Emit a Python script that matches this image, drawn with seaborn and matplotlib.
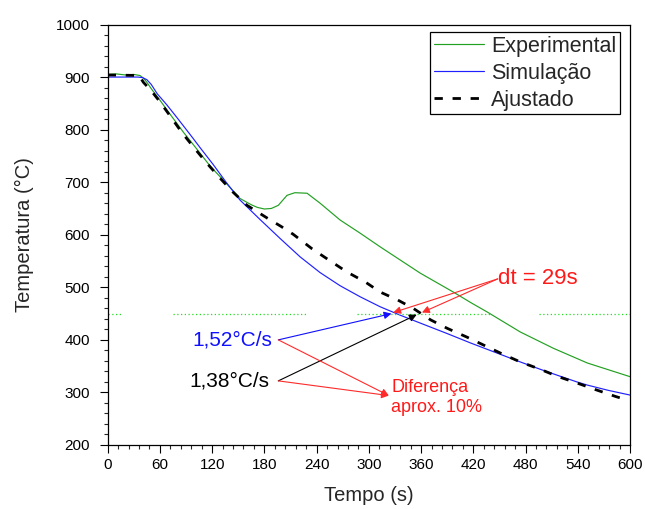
import numpy as np
import pandas as pd
import matplotlib
matplotlib.use("Agg")
import matplotlib.pyplot as plt
import seaborn as sns
from matplotlib.ticker import MultipleLocator

# ---------------- data ----------------
exp_t = [0, 10, 20, 30, 37, 41, 45, 50, 60, 70, 87, 100, 118, 135, 152, 165, 172, 180,
         188, 196, 206, 215, 229, 244, 267, 290, 313, 336, 359, 397, 417, 436, 474, 512, 551, 600]
exp_T = [905, 906, 904, 905, 903, 898, 890, 878, 856, 833, 795, 768, 730, 700, 669, 657, 652, 649,
         650, 656, 675, 680, 679, 660, 628, 603, 577, 552, 527, 491, 471, 453, 415, 384, 356, 330]

sim_t = [0, 35, 40, 45, 50, 57, 68, 80, 95, 106, 121, 136, 152, 175, 198, 221, 244, 267, 290,
         313, 336, 359, 390, 417, 436, 455, 474, 497, 516, 539, 551, 575, 600]
sim_T = [900, 900, 899, 895, 886, 868, 847, 822, 790, 766, 734, 700, 666, 629, 593, 558, 528, 503, 482,
         463, 447, 432, 412, 394, 382, 370, 358, 344, 333, 320, 314, 304, 295]

fit_t = [0, 36, 41, 50, 60, 70, 85, 100, 114, 130, 144, 160, 183, 200, 213, 235, 254, 275, 296, 313,
         333, 351, 371, 390, 413, 432, 451, 474, 497, 516, 539, 561, 584, 592]
fit_T = [904, 903, 890, 874, 853, 830, 795, 764, 736, 706, 681, 656, 632, 615, 601, 573, 552, 529, 510, 491,
         476, 460, 438, 422, 405, 390, 375, 358, 344, 331, 318, 305, 292, 288]

ref_T = 450
ref_segments = [(0, 18), (75, 230), (286, 442), (496, 600)]

x_ticks = [0, 60, 120, 180, 240, 300, 360, 420, 480, 540, 600]
y_ticks = [200, 300, 400, 500, 600, 700, 800, 900, 1000]

series_labels = ["Experimental", "Simulação", "Ajustado"]

# ---------------- style ----------------
sns.set_style("ticks")
plt.rcParams["font.family"] = ["Liberation Sans", "DejaVu Sans"]

fig = plt.figure(figsize=(6.45, 5.09), dpi=100)
ax = fig.add_axes([107.7 / 645, 1 - 445 / 509, (630 - 107.7) / 645, (445 - 24.5) / 509])

df_exp = pd.DataFrame({"t": exp_t, "T": exp_T})
df_sim = pd.DataFrame({"t": sim_t, "T": sim_T})
df_fit = pd.DataFrame({"t": fit_t, "T": fit_T})

sns.lineplot(data=df_exp, x="t", y="T", ax=ax, color="#22a022", linewidth=0.85,
             label=series_labels[0], sort=True)
sns.lineplot(data=df_sim, x="t", y="T", ax=ax, color="#2020ff", linewidth=0.85,
             label=series_labels[1], sort=True)
sns.lineplot(data=df_fit, x="t", y="T", ax=ax, color="black", linewidth=2.0,
             label=series_labels[2], sort=True)
ax.lines[2].set_dashes((3, 3.5))

# reference dotted line at 450
for a, b in ref_segments:
    ax.plot([a, b], [ref_T, ref_T], linestyle=(0, (1, 2)), color="#22dd22", linewidth=0.9)

ax.set_xlim(0, 600)
ax.set_ylim(200, 1000)
ax.set_xticks(x_ticks)
ax.set_yticks(y_ticks)
ax.xaxis.set_minor_locator(MultipleLocator(12))
ax.yaxis.set_minor_locator(MultipleLocator(20))
ax.tick_params(axis="both", which="major", direction="out", length=5.8, width=0.8,
               labelsize=11, colors="black")
ax.tick_params(axis="x", which="major", pad=3.5)
ax.tick_params(axis="y", which="major", pad=7)
ax.tick_params(axis="both", which="minor", direction="out", length=2.9, width=0.8)
for s in ax.spines.values():
    s.set_visible(True)
    s.set_linewidth(0.9)
    s.set_color("black")

ax.set_xlabel("Tempo (s)", fontsize=14.5, labelpad=10)
ax.set_ylabel("Temperatura (°C)", fontsize=14.5, labelpad=16)

leg = ax.legend(loc="upper right", bbox_to_anchor=(0.981, 0.983), borderaxespad=0,
                fontsize=15.5, frameon=True, fancybox=False, edgecolor="black",
                framealpha=1, handlelength=2.35, handletextpad=0.3, labelspacing=0.28,
                borderpad=0.18)
leg.get_frame().set_linewidth(0.9)

# ---------------- annotations ----------------
ax.text(189, 400, "1,52°C/s", color="#1010ff", fontsize=15, ha="right", va="center")
ax.text(186, 322, "1,38°C/s", color="black", fontsize=15, ha="right", va="center")
ax.text(448, 517, "dt = 29s", color="#ff1a1a", fontsize=16, ha="left", va="center")
ax.text(326, 291, "Diferença\naprox. 10%", color="#ff1a1a", fontsize=13, ha="left",
        va="center", linespacing=1.25)

def arrow(start, end, color):
    ax.annotate("", xy=end, xytext=start,
                arrowprops=dict(arrowstyle="-|>", color=color, lw=0.8,
                                mutation_scale=11, shrinkA=0, shrinkB=0))

arrow((196, 400), (326, 450), "#1010ff")
arrow((196, 322), (355, 448), "black")
arrow((448, 516), (328, 452), "#ff2a2a")
arrow((448, 516), (361, 452), "#ff2a2a")
arrow((196, 400), (323, 294), "#ff2a2a")
arrow((196, 322), (323, 294), "#ff2a2a")

fig.savefig("out.png", dpi=100)
